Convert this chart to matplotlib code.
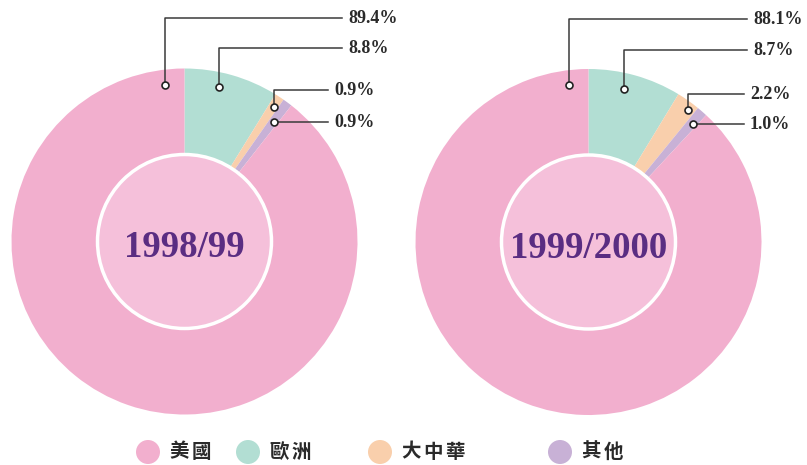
import numpy as np
import matplotlib.pyplot as plt
from matplotlib.patches import Circle

# data (percent share)
years = ["1998/99", "1999/2000"]
regions = ["美國", "歐洲", "大中華", "其他"]
us = [89.4, 88.1]
europe = [8.8, 8.7]
greater_china = [0.9, 2.2]
others = [0.9, 1.0]

colors = {"美國": "#F2AFCE", "歐洲": "#B2DED3", "大中華": "#F9CFAC", "其他": "#C8B1D6"}
inner_col = "#F5C0DA"
title_col = "#5A2D82"
line_col = "#3a3a3a"

W, H = 807, 465
def Y(y):
    return H - y

fig = plt.figure(figsize=(W / 100, H / 100), dpi=100)
ax = fig.add_axes([0, 0, 1, 1])

centers = [(184.5, 241.5), (588.5, 242)]
radius = 173
inner_r = 87
# where the leader dot sits inside each wedge (美國, 歐洲, 大中華, 其他)
dot_frac = [[None, 0.4, 0.6, 0.6], [None, 0.42, 0.72, 0.64]]
dot_rad = [[158, 158, 161, 149], [158, 157, 165, 157]]
# label rows (image y) and text x
label_y = [[18, 48, 90, 120], [19, 50, 94, 124]]
label_x = [[348, 348, 334, 334], [753, 753, 750, 750]]

serif = ["Liberation Serif", "DejaVu Serif"]

for i in range(2):
    vals = {"美國": us[i], "歐洲": europe[i], "大中華": greater_china[i], "其他": others[i]}
    order = ["歐洲", "大中華", "其他", "美國"]  # clockwise from 12 o'clock
    cx, cy = centers[i]
    wedges, _ = ax.pie([vals[k] for k in order], colors=[colors[k] for k in order],
                       startangle=90, counterclock=False, center=(cx, Y(cy)),
                       radius=radius, wedgeprops=dict(linewidth=0))
    ax.add_patch(Circle((cx, Y(cy)), inner_r, facecolor=inner_col,
                        edgecolor="white", linewidth=2.5, zorder=3))
    ax.text(cx, Y(cy + 6), years[i], ha="center", va="center", fontsize=26.5,
            fontweight="bold", color=title_col, family=serif, zorder=4)

    for w, k in zip(wedges, order):
        j = regions.index(k)
        if k == "美國":
            ang = w.theta1 + 7
        else:
            # clockwise: wedge starts at theta2
            ang = w.theta2 - dot_frac[i][j] * (w.theta2 - w.theta1)
        a = np.deg2rad(ang)
        r = dot_rad[i][j]
        dx = cx + r * np.cos(a)
        dy = Y(cy) + r * np.sin(a)
        ly = Y(label_y[i][j])
        lx = label_x[i][j]
        if abs(ly - dy) > 4:
            ax.plot([dx, dx, lx - 6], [dy, ly, ly], color=line_col, lw=1.1, zorder=5)
        else:
            ax.plot([dx, lx - 6], [dy, dy], color=line_col, lw=1.1, zorder=5)
            ly = dy
        ax.plot(dx, dy, "o", ms=5, mfc="white", mec="#222222", mew=1.2, zorder=6)
        ax.text(lx, ly, f"{vals[k]:.1f}%", ha="left", va="center", fontsize=13,
                fontweight="bold", color="#2a2a2a", family=serif, zorder=6)

# legend
leg_x = [148, 248, 380, 560]
leg_y = 452
for x0, name in zip(leg_x, regions):
    ax.add_patch(Circle((x0, Y(leg_y)), 12, facecolor=colors[name], edgecolor="none"))
    for c, ch in enumerate(name):
        ax.text(x0 + 31 + c * 22, Y(leg_y), ch, ha="center", va="center", fontsize=14,
                fontweight="bold", color="#2a2a2a",
                family=["Noto Sans CJK TC", "DejaVu Sans"])

ax.set_xlim(0, W)
ax.set_ylim(0, H)
ax.set_aspect("equal")
ax.axis("off")

fig.savefig("out.png", dpi=100, facecolor="white")
